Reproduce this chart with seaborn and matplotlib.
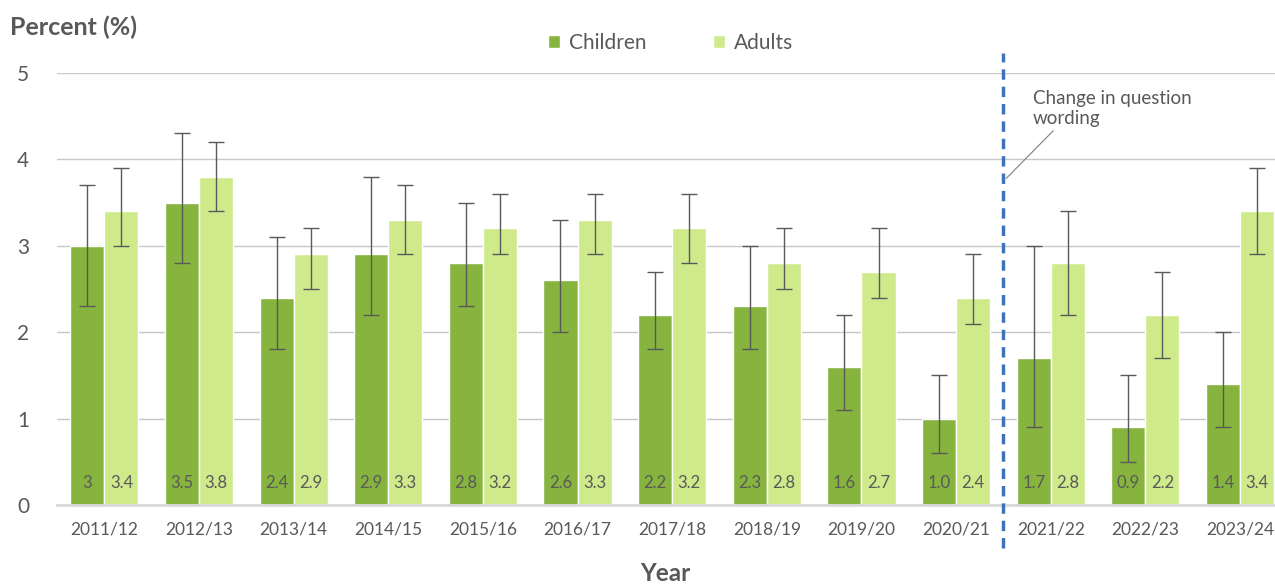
import pandas as pd
import seaborn as sns
import matplotlib.pyplot as plt

years = ['2011/12', '2012/13', '2013/14', '2014/15', '2015/16', '2016/17', '2017/18',
         '2018/19', '2019/20', '2020/21', '2021/22', '2022/23', '2023/24']
children = [3.0, 3.5, 2.4, 2.9, 2.8, 2.6, 2.2, 2.3, 1.6, 1.0, 1.7, 0.9, 1.4]
adults = [3.4, 3.8, 2.9, 3.3, 3.2, 3.3, 3.2, 2.8, 2.7, 2.4, 2.8, 2.2, 3.4]
children_lo = [2.3, 2.8, 1.8, 2.2, 2.3, 2.0, 1.8, 1.8, 1.1, 0.6, 0.9, 0.5, 0.9]
children_hi = [3.7, 4.3, 3.1, 3.8, 3.5, 3.3, 2.7, 3.0, 2.2, 1.5, 3.0, 1.5, 2.0]
adults_lo = [3.0, 3.4, 2.5, 2.9, 2.9, 2.9, 2.8, 2.5, 2.4, 2.1, 2.2, 1.7, 2.9]
adults_hi = [3.9, 4.2, 3.2, 3.7, 3.6, 3.6, 3.6, 3.2, 3.2, 2.9, 3.4, 2.7, 3.9]
children_lbl = ['3', '3.5', '2.4', '2.9', '2.8', '2.6', '2.2', '2.3', '1.6', '1.0', '1.7', '0.9', '1.4']
adults_lbl = ['3.4', '3.8', '2.9', '3.3', '3.2', '3.3', '3.2', '2.8', '2.7', '2.4', '2.8', '2.2', '3.4']

sns.set_style('white')
plt.rcParams['font.family'] = ['Lato', 'DejaVu Sans']

df = pd.DataFrame({
    'year': years * 2,
    'value': children + adults,
    'group': ['Children'] * len(years) + ['Adults'] * len(years),
})

fig = plt.figure(figsize=(12.75, 5.87), dpi=100)
ax = fig.add_axes([0.0447, 0.1397, 0.965, 0.736])

sns.barplot(data=df, x='year', y='value', hue='group', errorbar=None, width=0.72,
            palette=['#86b43e', '#cfea8b'], saturation=1, ax=ax)

grey = '#595959'
errs = [(children_lo, children_hi, children_lbl), (adults_lo, adults_hi, adults_lbl)]
for cont, (lo, hi, lbl) in zip(ax.containers, errs):
    for i, bar in enumerate(cont.patches):
        xc = bar.get_x() + bar.get_width() / 2
        v = bar.get_height()
        ax.errorbar(xc, v, yerr=[[v - lo[i]], [hi[i] - v]], fmt='none', ecolor=grey,
                    elinewidth=1, capsize=6, capthick=1, zorder=4)
        ax.text(xc, 0.25, lbl[i], ha='center', va='center', fontsize=12, color=grey, zorder=5)

ax.set_ylim(0, 5)
ax.set_xlim(-0.5, 12.5)
ax.set_yticks([0, 1, 2, 3, 4, 5])
ax.yaxis.grid(True, color='#c8c8c8', linewidth=1)
ax.set_axisbelow(True)
for s in ['top', 'right', 'left']:
    ax.spines[s].set_visible(False)
ax.spines['bottom'].set_color('#d9d9d9')
ax.spines['bottom'].set_linewidth(2)
ax.tick_params(axis='y', length=0, pad=20, labelsize=15, labelcolor=grey)
ax.tick_params(axis='x', length=0, pad=12, labelsize=12.5, labelcolor=grey)
ax.set_xlabel('')
ax.set_ylabel('')

# change in question wording marker
ax.axvline(9.5, ymin=-0.1, ymax=1.046, color='#3f73b9', linewidth=2.5,
           linestyle=(0, (3, 2)), clip_on=False, zorder=6)
ax.annotate('Change in question\nwording', xy=(9.53, 3.78), xytext=(9.81, 4.37),
            fontsize=13.5, color=grey, ha='left', va='bottom', linespacing=1.25,
            arrowprops=dict(arrowstyle='-', color='#7f7f7f', lw=0.8,
                            shrinkA=0, shrinkB=0, relpos=(0.15, 0)))

handles, labels = ax.get_legend_handles_labels()
ax.legend(handles, labels, loc='center', bbox_to_anchor=(0.526, 0.927),
          bbox_transform=fig.transFigure, ncol=2, frameon=False, fontsize=15,
          handlelength=0.55, handleheight=0.55, handletextpad=0.45, columnspacing=3.2,
          labelcolor=grey)

fig.text(0.008, 0.954, 'Percent (%)', fontsize=18, fontweight='bold', color=grey,
         ha='left', va='center')
fig.text(0.5216, 0.004, 'Year', fontsize=17.5, fontweight='bold', color=grey,
         ha='center', va='bottom')

fig.savefig('out.png', dpi=100)
